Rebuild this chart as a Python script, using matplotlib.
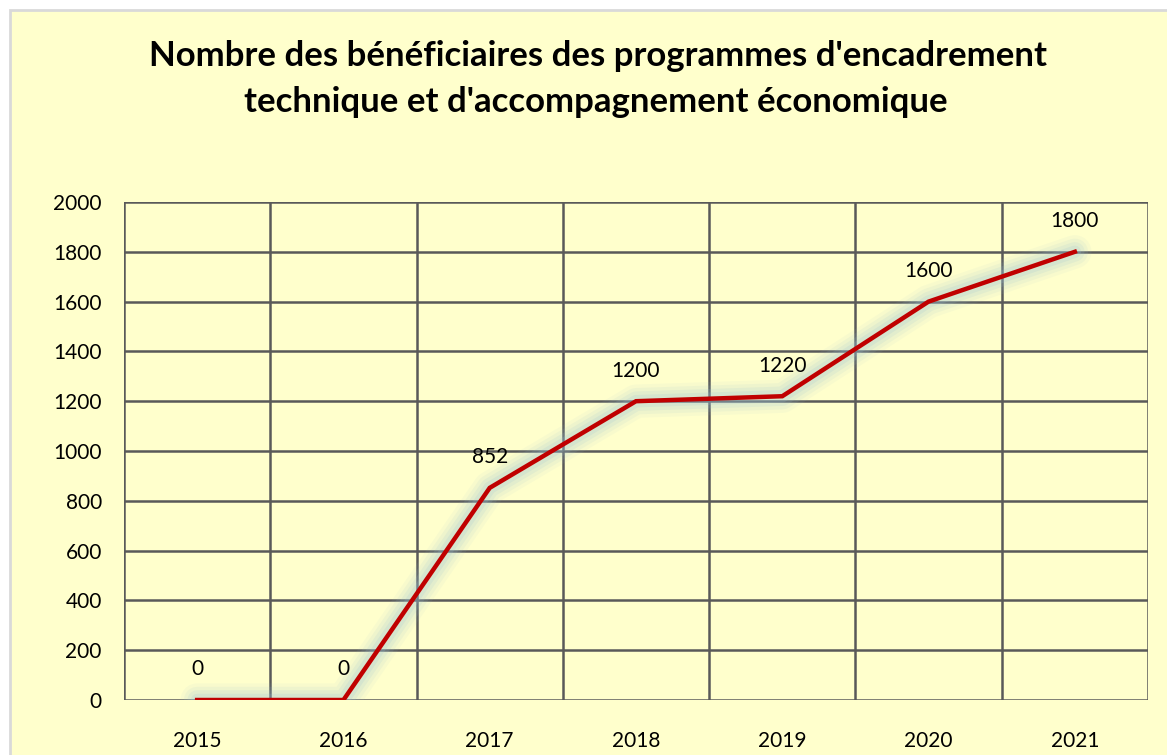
import matplotlib.pyplot as plt
from matplotlib.patches import Rectangle

years = ["2015", "2016", "2017", "2018", "2019", "2020", "2021"]
beneficiaires = [0, 0, 852, 1200, 1220, 1600, 1800]
y_ticks = [0, 200, 400, 600, 800, 1000, 1200, 1400, 1600, 1800, 2000]

BG = "#FFFFCC"
GRID = "#595959"
LINE = "#C00000"
GLOW = "#9CC3D5"

plt.rcParams["font.family"] = ["Lato", "DejaVu Sans"]

fig = plt.figure(figsize=(11.67, 7.55), dpi=100)
fig.patch.set_facecolor("white")

# chart frame, cut off on the right and bottom
fig.patches.append(
    Rectangle(
        (10 / 1167, -0.05), 1.1, 1 - 10 / 755 + 0.05,
        transform=fig.transFigure, facecolor=BG, edgecolor="#D9D9D9",
        linewidth=2, zorder=-1,
    )
)

ax = fig.add_axes([124 / 1167, 1 - 700 / 755, (1148 - 124) / 1167, (700 - 202) / 755])
ax.set_facecolor(BG)

x = list(range(len(years)))
ax.set_xlim(-0.5, len(years) - 0.5)
ax.set_ylim(0, 2000)

# vertical grid between categories, horizontal at each tick
for b in [i - 0.5 for i in range(len(years) + 1)]:
    ax.axvline(b, color=GRID, linewidth=1.8, zorder=1)
for t in y_ticks:
    ax.axhline(t, color=GRID, linewidth=1.8, zorder=1)

# soft glow under the line
for w, a in [(24, 0.07), (19, 0.10), (14, 0.14), (9, 0.18)]:
    ax.plot(x, beneficiaires, color=GLOW, linewidth=w, alpha=a,
            solid_capstyle="round", solid_joinstyle="round", zorder=2)
ax.plot(x, beneficiaires, color=LINE, linewidth=3.2, zorder=3,
        solid_joinstyle="miter")

for xi, v in zip(x, beneficiaires):
    ax.annotate(str(v), (xi, v), xytext=(0, 22), textcoords="offset points",
                ha="center", va="center", fontsize=15, color="black", zorder=4)

ax.set_xticks(x)
ax.set_xticklabels(years, fontsize=15)
ax.set_yticks(y_ticks)
ax.set_yticklabels([str(t) for t in y_ticks], fontsize=15)
ax.tick_params(length=0)
ax.tick_params(axis="x", pad=22)
ax.tick_params(axis="y", pad=16)
for s in ax.spines.values():
    s.set_visible(False)

fig.text(598 / 1167, 1 - 56 / 755,
         "Nombre des bénéficiaires des programmes d'encadrement",
         ha="center", va="center", fontsize=25, fontweight="bold")
fig.text(596 / 1167, 1 - 102 / 755,
         "technique et d'accompagnement économique",
         ha="center", va="center", fontsize=25, fontweight="bold")

fig.savefig("out.png", dpi=100, facecolor=fig.get_facecolor())
